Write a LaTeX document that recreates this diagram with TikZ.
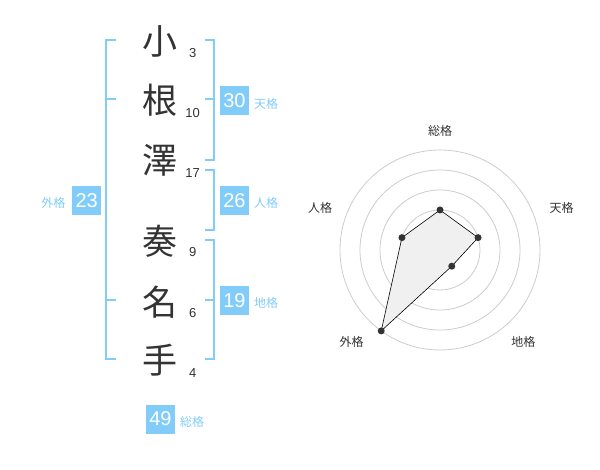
\documentclass[tikz,border=0pt]{standalone}
\usepackage{fontspec}
\setmainfont{Liberation Sans}
\newfontfamily\jp{Noto Sans CJK JP}
\definecolor{kakublue}{HTML}{82CCFA}
\definecolor{inkgray}{HTML}{333333}
\definecolor{ringgray}{HTML}{CCCCCC}
\definecolor{fillgray}{HTML}{F0F0F0}

\begin{document}
\begin{tikzpicture}[x=1pt, y=1pt, kanji/.style={font=\jp\fontsize{35}{35}\selectfont, text=inkgray, inner sep=0pt}, stroke/.style={font=\fontsize{13}{13}\selectfont, text=inkgray, inner sep=0pt}, kakubox/.style={fill=kakublue, text=white, minimum size=29pt, inner sep=0pt, font=\fontsize{20}{20}\selectfont}, kakulabel/.style={font=\jp\fontsize{12}{12}\selectfont, text=kakublue, inner sep=0pt}, bracket/.style={draw=kakublue, line width=2pt}, ring/.style={draw=ringgray, line width=0.8pt}, axislabel/.style={font=\jp\fontsize{12}{12}\selectfont, text=inkgray, inner sep=0pt}, dot/.style={circle, fill=inkgray, inner sep=0pt, minimum size=7pt}]

  \useasboundingbox (0,0) rectangle (600,-470);

  % name
  \node[kanji] (k1) at (160,-41.7) {小};
  \node[kanji] (k2) at (160,-100) {根};
  \node[kanji] (k3) at (160,-160) {澤};
  \node[kanji] (k4) at (160,-241.7) {奏};
  \node[kanji] (k5) at (160,-301.7) {名};
  \node[kanji] (k6) at (160,-360) {手};

  \node[stroke] (s1) at (192.7,-52.7) {3};
  \node[stroke] (s2) at (192.7,-112.7) {10};
  \node[stroke] (s3) at (192.7,-173.3) {17};
  \node[stroke] (s4) at (192.7,-252.3) {9};
  \node[stroke] (s5) at (192.7,-312.7) {6};
  \node[stroke] (s6) at (192.7,-373.3) {4};

  % brackets
  \draw[bracket] (115.7,-40) -- (105.7,-40) -- (105.7,-359.3) -- (115.7,-359.3);
  \draw[bracket] (105.7,-99.3) -- (115.7,-99.3);
  \draw[bracket] (105.7,-300) -- (115.7,-300);
  \draw[bracket] (205,-40) -- (214.3,-40) -- (214.3,-160) -- (205,-160);
  \draw[bracket] (205,-99.3) -- (214.3,-99.3);
  \draw[bracket] (205,-170) -- (214.3,-170) -- (214.3,-230) -- (205,-230);
  \draw[bracket] (205,-240) -- (214.3,-240) -- (214.3,-359.3) -- (205,-359.3);
  \draw[bracket] (205,-300) -- (214.3,-300);

  % kaku
  \node[kakubox] (ten) at (234.5,-100.3) {30};
  \node[kakulabel] (tenl) at (266,-103.5) {天格};
  \node[kakubox] (jin) at (234.5,-200.3) {26};
  \node[kakulabel] (jinl) at (266,-203.3) {人格};
  \node[kakubox] (chi) at (234.5,-300.5) {19};
  \node[kakulabel] (chil) at (266,-303.3) {地格};
  \node[kakubox] (gai) at (86.7,-200.3) {23};
  \node[kakulabel] (gail) at (53.3,-203.3) {外格};
  \node[kakubox] (so) at (160.5,-419) {49};
  \node[kakulabel] (sol) at (192,-422.3) {総格};

  % radar
  \coordinate (c) at (440,-250);
  \foreach \r in {20,40,...,100}
    \draw[ring] (c) circle (\r);
  \fill[ringgray] (c) circle (3);
  \path (c) +(90:40) coordinate (rso) +(18:40) coordinate (rten) +(-54:20) coordinate (rchi) +(234:100) coordinate (rgai) +(162:40) coordinate (rjin);
  \filldraw[fill=fillgray, draw=black, line width=0.6pt] (rso) -- (rten) -- (rchi) -- (rgai) -- (rjin) -- cycle;
  \foreach \p in {rso,rten,rchi,rgai,rjin}
    \node[dot] (d-\p) at (\p) {};

  \node[axislabel] (a-so) at (440,-130.7) {総格};
  \node[axislabel] (a-ten) at (561.7,-208.3) {天格};
  \node[axislabel] (a-jin) at (320,-208.3) {人格};
  \node[axislabel] (a-gai) at (351.7,-342.3) {外格};
  \node[axislabel] (a-chi) at (523.3,-342.3) {地格};
\end{tikzpicture}
\end{document}
